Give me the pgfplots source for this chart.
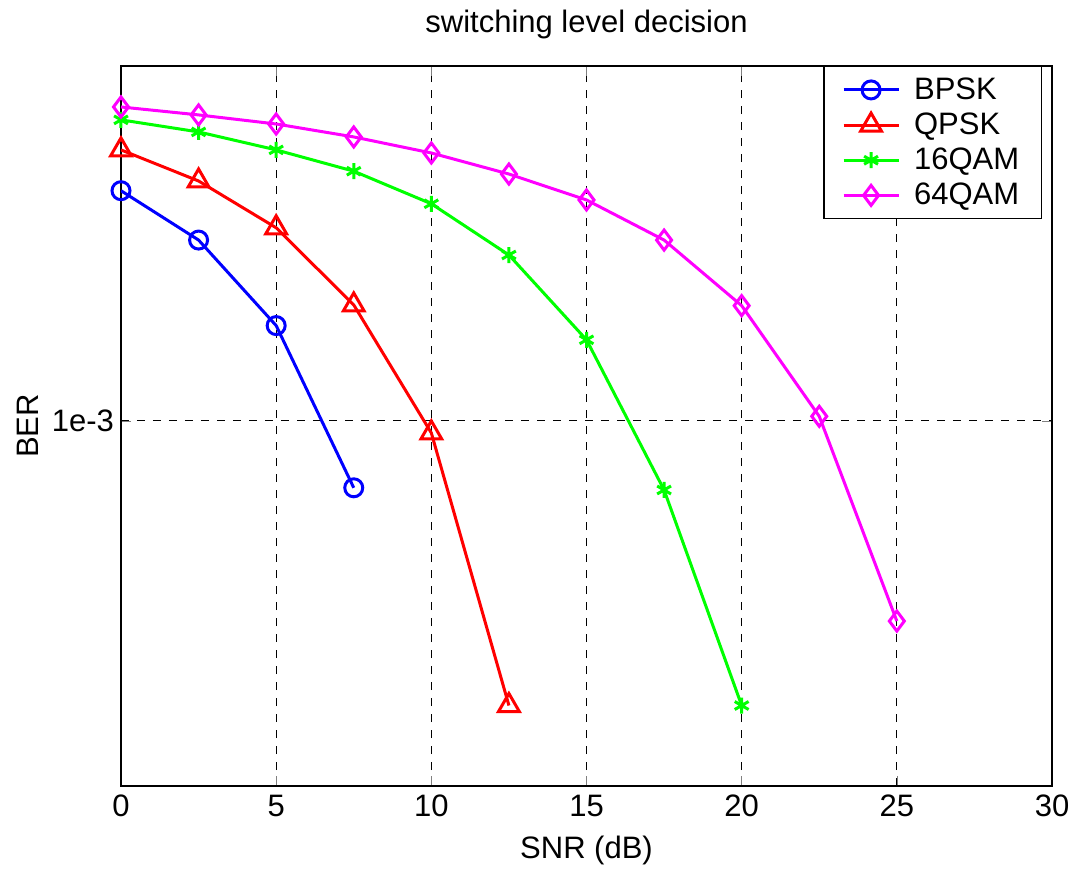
\documentclass[border=0pt]{standalone}
\usepackage{pgfplots}
\pgfplotsset{compat=1.18}
\usepackage{fontspec}
\setmainfont{Liberation Sans}
\definecolor{mblue}{RGB}{0,0,255}
\definecolor{mred}{RGB}{255,0,0}
\definecolor{mgreen}{RGB}{0,255,0}
\definecolor{mmag}{RGB}{255,0,255}
\begin{document}
\begin{tikzpicture}
\useasboundingbox (-60.5pt,-43pt) rectangle (479.5pt,393pt);
\begin{axis}[
  at={(0,0)}, anchor=south west,
  scale only axis, width=465.5pt, height=360pt,
  xmin=0, xmax=30, ymode=log, ymin=9.68e-5, ymax=9.68e-3,
  xtick={0,5,...,30}, ytick={1e-3}, yticklabels={1e-3},
  minor ytick={},
  /pgf/number format/assume math mode=true,
  font=\fontsize{15.5pt}{18pt}\selectfont,
  tick label style={font=\fontsize{15.5pt}{18pt}\selectfont},
  xticklabel style={yshift=-1pt},
  grid=major, major grid style={black, dash pattern=on 4pt off 4pt, line width=0.5pt},
  tick align=inside, major tick length=5pt,
  axis line style={line width=0.6pt},
  title={switching level decision},
  title style={at={(0.5,1)}, yshift=4pt, anchor=south},
  xlabel={SNR (dB)}, ylabel={BER},
  xlabel style={at={(axis description cs:0.5,0)}, yshift=-32pt, anchor=center},
  ylabel style={at={(axis description cs:-0.0999,0.5)}, anchor=center},
  legend style={at={(0.989,1)}, anchor=north east, draw=black, line width=0.6pt,
    font=\fontsize{15.5pt}{18pt}\selectfont, row sep=1.25pt, inner xsep=9pt, inner ysep=3.5pt,
    /tikz/column 1/.append style={column sep=5pt}},
  legend cell align=left,
  legend image code/.code={
    \draw[mark repeat=2,mark phase=2,#1] plot coordinates {(0pt,0pt) (13.75pt,0pt) (27.5pt,0pt)};
  },
  every axis plot/.append style={line width=1.5pt},
]
\addplot[mblue, mark=o, mark size=4.5pt] coordinates {
 (0,4.36e-3) (2.5,3.18e-3) (5,1.84e-3) (7.5,6.52e-4)};
\addlegendentry{BPSK}
\addplot[mred, mark=triangle, mark size=6pt] coordinates {
 (0,5.66e-3) (2.5,4.64e-3) (5,3.44e-3) (7.5,2.10e-3) (10,9.26e-4) (12.5,1.62e-4)};
\addlegendentry{QPSK}
\addplot[mgreen, mark=asterisk, mark size=4pt] coordinates {
 (0,6.86e-3) (2.5,6.35e-3) (5,5.66e-3) (7.5,4.94e-3) (10,4.01e-3) (12.5,2.89e-3) (15,1.68e-3) (17.5,6.43e-4) (20,1.62e-4)};
\addlegendentry{16QAM}
\addplot[mmag, mark=diamond, mark size=5pt] coordinates {
 (0,7.45e-3) (2.5,7.08e-3) (5,6.68e-3) (7.5,6.15e-3) (10,5.55e-3) (12.5,4.85e-3) (15,4.11e-3) (17.5,3.18e-3) (20,2.09e-3) (22.5,1.03e-3) (25,2.78e-4)};
\addlegendentry{64QAM}
\end{axis}
\end{tikzpicture}
\end{document}
